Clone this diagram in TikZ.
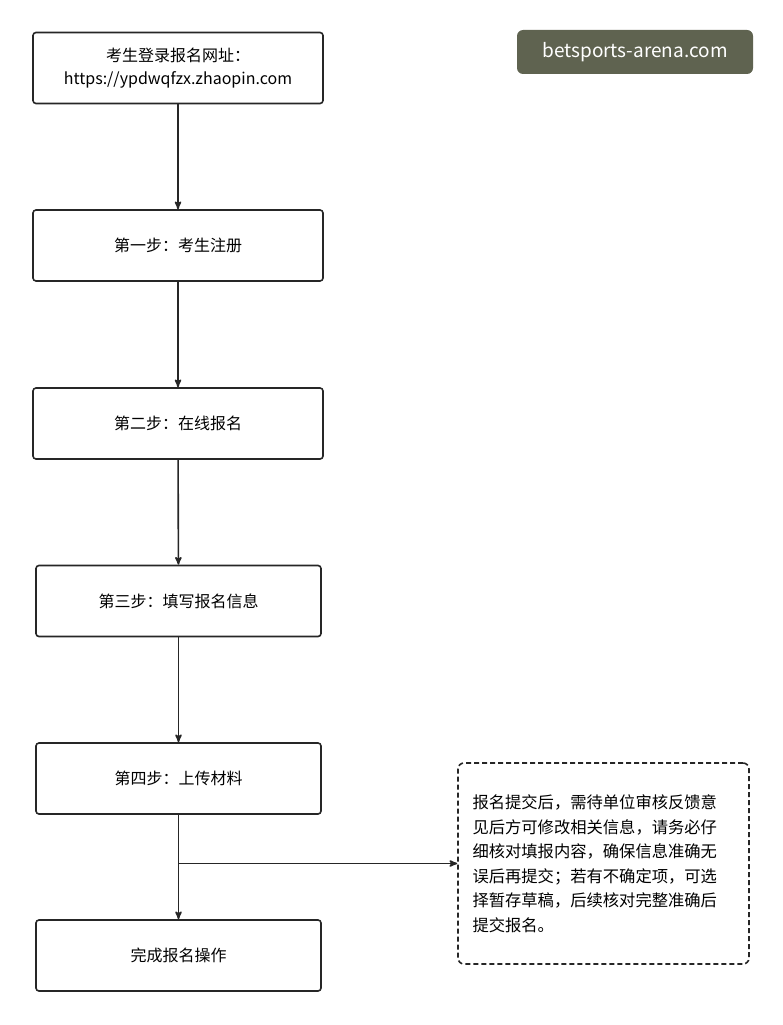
\documentclass[tikz,border=0pt]{standalone}
\usepackage{fontspec}
\setmainfont{Noto Sans CJK SC}
\usetikzlibrary{arrows,positioning}
\begin{document}
\begin{tikzpicture}[x=1pt,y=-1pt,
  stepbox/.style={draw=black!85,line width=1.6pt,rounded corners=3pt,minimum width=290pt,minimum height=71pt,align=center,font=\fontsize{16}{23}\selectfont},
  note/.style={draw=black!85,line width=1.6pt,dash pattern=on 5pt off 3pt,rounded corners=6pt,minimum width=291pt,minimum height=201pt,text width=262pt,align=left,font=\fontsize{16.3}{24.5}\selectfont},
  flow/.style={black!85,line width=1.6pt,->,>=stealth'}]
\useasboundingbox (0,0) rectangle (782,1025);
\node[stepbox] (login) at (178,68) {考生登录报名网址：\\https://ypdwqfzx.zhaopin.com};
\node[stepbox] (reg) at (178,245.5) {第一步：考生注册};
\node[stepbox] (apply) at (178,423.5) {第二步：在线报名};
\node[stepbox,minimum width=285pt] (fill) at (178.5,601) {第三步：填写报名信息};
\node[stepbox,minimum width=285pt] (upload) at (178.5,778.5) {第四步：上传材料};
\node[stepbox,minimum width=285pt] (done) at (178.5,955.5) {完成报名操作};
\node[note] (tip) at (603.5,863.5) {报名提交后，需待单位审核反馈意\\见后方可修改相关信息，请务必仔\\细核对填报内容，确保信息准确无\\误后再提交；若有不确定项，可选\\择暂存草稿，后续核对完整准确后\\提交报名。};
\node[fill={rgb,255:red,95;green,99;blue,80},text=white,rounded corners=6pt,minimum width=236pt,minimum height=44pt,font=\fontsize{19}{22}\selectfont] (mark) at (635,52) {betsports-arena.com};
\draw[flow] (login) -- (reg);
\draw[flow] (reg) -- (apply);
\draw[flow] (apply) -- (fill);
\draw[flow] (fill) -- (upload);
\draw[flow] (upload) -- (done);
\coordinate (fork) at (tip.west -| upload.south);
\draw[flow] (fork) -- (tip.west);
\end{tikzpicture}
\end{document}
